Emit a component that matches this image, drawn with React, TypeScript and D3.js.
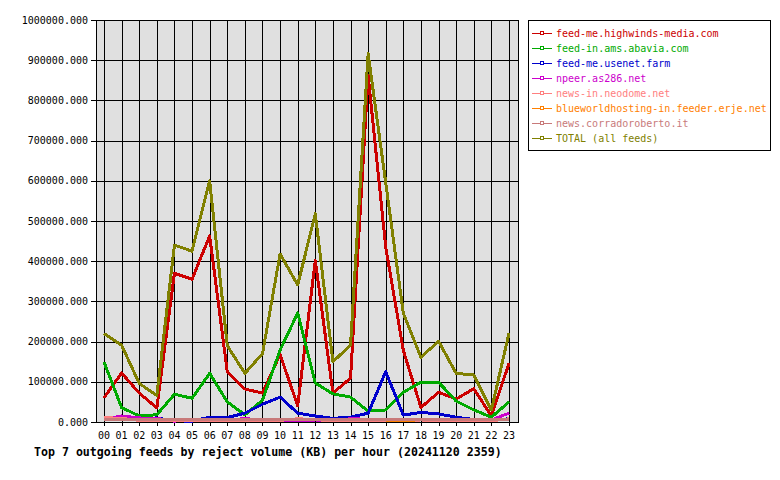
import React, { useRef, useEffect } from 'react';
import * as d3 from 'd3';

const hours = ['00', '01', '02', '03', '04', '05', '06', '07', '08', '09', '10', '11',
  '12', '13', '14', '15', '16', '17', '18', '19', '20', '21', '22', '23'];

const highwinds = [60000, 122000, 72000, 35000, 370000, 355000, 463000, 125000, 82000, 72000, 168000, 40000,
  402000, 72000, 109000, 862000, 435000, 178000, 36000, 74000, 57000, 83000, 15000, 146000];
const abavia = [149000, 36000, 15000, 18000, 69000, 59000, 121000, 50000, 18000, 54000, 179000, 271000,
  97000, 70000, 62000, 27000, 30000, 74000, 99000, 99000, 52000, 30000, 12000, 50000];
const usenetFarm = [5000, 10000, 9000, 10000, 3000, 2000, 12000, 11000, 22000, 44000, 62000, 22000,
  15000, 9000, 12000, 22000, 125000, 17000, 24000, 20000, 12000, 6000, 5000, 8000];
const npeer = [6000, 15000, 10000, 9000, 2000, 7000, 7000, 6000, 8000, 6000, 4000, 3000,
  5000, 4000, 8000, 7000, 4000, 4000, 5000, 7000, 5000, 6000, 5000, 22000];
const neodome = [11000, 9000, 4000, 3000, 3000, 3000, 3000, 4000, 3000, 3000, 4000, 8000,
  6000, 3000, 3000, 3000, 3000, 4000, 5000, 4000, 3000, 3000, 3000, 8000];
const erje = [5000, 5000, 5000, 5000, 5000, 5000, 5000, 5000, 5000, 5000, 5000, 5000,
  5000, 5000, 5000, 5000, 5000, 3000, 6000, 7000, 5000, 5000, 5000, 5000];
const corrado = [6000, 6000, 5000, 5000, 5000, 5000, 5000, 5000, 5000, 5000, 5000, 5000,
  5000, 5000, 5000, 5000, 5000, 6000, 6000, 6000, 5000, 5000, 5000, 6000];
const total = [220000, 191000, 96000, 66000, 440000, 425000, 600000, 190000, 121000, 170000, 418000, 341000,
  518000, 150000, 191000, 916000, 595000, 270000, 161000, 201000, 121000, 117000, 30000, 221000];

const seriesNames = ['feed-me.highwinds-media.com', 'feed-in.ams.abavia.com', 'feed-me.usenet.farm',
  'npeer.as286.net', 'news-in.neodome.net', 'blueworldhosting-in.feeder.erje.net',
  'news.corradoroberto.it', 'TOTAL (all feeds)'];
const seriesValues = [highwinds, abavia, usenetFarm, npeer, neodome, erje, corrado, total];
const seriesColors = ['#cc0000', '#00aa00', '#0000cc', '#cc00cc', '#ff8080', '#ff8000', '#c87a7a', '#808000'];

const yTicks = [0, 100000, 200000, 300000, 400000, 500000, 600000, 700000, 800000, 900000, 1000000];

const title = 'Top 7 outgoing feeds by reject volume (KB) per hour (20241120 2359)';

const App: React.FC = () => {
  const svgRef = useRef<SVGSVGElement>(null);

  useEffect(() => {
    if (!svgRef.current) return;
    const svg = d3.select(svgRef.current);
    svg.selectAll('*').remove();

    const font = 'DejaVu Sans Mono';
    const plot = { left: 96, right: 518, top: 20, bottom: 422 };

    const x = d3.scaleLinear().domain([0, hours.length - 1]).range([104, 509]);
    const y = d3.scaleLinear().domain([0, 1000000]).range([plot.bottom, plot.top]);

    svg.append('rect')
      .attr('width', 780).attr('height', 480).attr('fill', '#ffffff');

    // plot background
    svg.append('rect')
      .attr('x', plot.left).attr('y', plot.top)
      .attr('width', plot.right - plot.left).attr('height', plot.bottom - plot.top)
      .attr('fill', '#e0e0e0');

    // grid
    const grid = svg.append('g')
      .attr('stroke', '#000').attr('stroke-width', 1).attr('shape-rendering', 'crispEdges');

    yTicks.forEach(t => {
      const py = Math.round(y(t)) + 0.5;
      grid.append('line').attr('x1', plot.left - 5).attr('x2', plot.right).attr('y1', py).attr('y2', py);
    });
    hours.forEach((h, i) => {
      const px = Math.round(x(i)) + 0.5;
      grid.append('line').attr('x1', px).attr('x2', px).attr('y1', plot.top).attr('y2', plot.bottom + 4);
    });
    grid.append('line').attr('x1', plot.left + 0.5).attr('x2', plot.left + 0.5).attr('y1', plot.top).attr('y2', plot.bottom + 1);
    grid.append('line').attr('x1', plot.right + 0.5).attr('x2', plot.right + 0.5).attr('y1', plot.top).attr('y2', plot.bottom + 1);

    // y labels
    svg.append('g').selectAll('text')
      .data(yTicks).enter().append('text')
      .attr('x', 88)
      .attr('y', d => y(d) + 3.5)
      .attr('text-anchor', 'end')
      .attr('font-family', font)
      .attr('font-size', '10px')
      .attr('fill', '#000')
      .text(d => d3.format('.3f')(d));

    // x labels
    svg.append('g').selectAll('text')
      .data(hours).enter().append('text')
      .attr('x', (d, i) => x(i))
      .attr('y', 439)
      .attr('text-anchor', 'middle')
      .attr('font-family', font)
      .attr('font-size', '10px')
      .attr('fill', '#000')
      .text(d => d);

    // lines
    const line = d3.line<number>()
      .x((d, i) => x(i))
      .y(d => y(d));

    seriesValues.forEach((vals, k) => {
      svg.append('path')
        .datum(vals)
        .attr('d', line)
        .attr('fill', 'none')
        .attr('stroke', seriesColors[k])
        .attr('stroke-width', 3)
        .attr('stroke-linejoin', 'round')
        .attr('shape-rendering', 'crispEdges');
    });

    // legend
    const lg = svg.append('g');
    lg.append('rect')
      .attr('x', 528.5).attr('y', 20.5).attr('width', 242).attr('height', 130)
      .attr('fill', '#fff').attr('stroke', '#000').attr('stroke-width', 1)
      .attr('shape-rendering', 'crispEdges');

    seriesNames.forEach((name, k) => {
      const cy = 33 + k * 15;
      lg.append('line')
        .attr('x1', 532).attr('x2', 552).attr('y1', cy + 0.5).attr('y2', cy + 0.5)
        .attr('stroke', seriesColors[k]).attr('stroke-width', 1)
        .attr('shape-rendering', 'crispEdges');
      lg.append('rect')
        .attr('x', 540.5).attr('y', cy - 1.5).attr('width', 3).attr('height', 3)
        .attr('fill', '#fff').attr('stroke', seriesColors[k]).attr('stroke-width', 1)
        .attr('shape-rendering', 'crispEdges');
      lg.append('text')
        .attr('x', 556).attr('y', cy + 4)
        .attr('font-family', font)
        .attr('font-size', '10px')
        .attr('fill', seriesColors[k])
        .text(name);
    });

    // title
    svg.append('text')
      .attr('x', 34).attr('y', 456)
      .attr('font-family', font)
      .attr('font-size', '11.6px')
      .attr('font-weight', 'bold')
      .attr('fill', '#000')
      .text(title);
  }, []);

  return <svg ref={svgRef} width={780} height={480} style={{ position: 'absolute', left: 0, top: 0 }} />;
};

export default App;
